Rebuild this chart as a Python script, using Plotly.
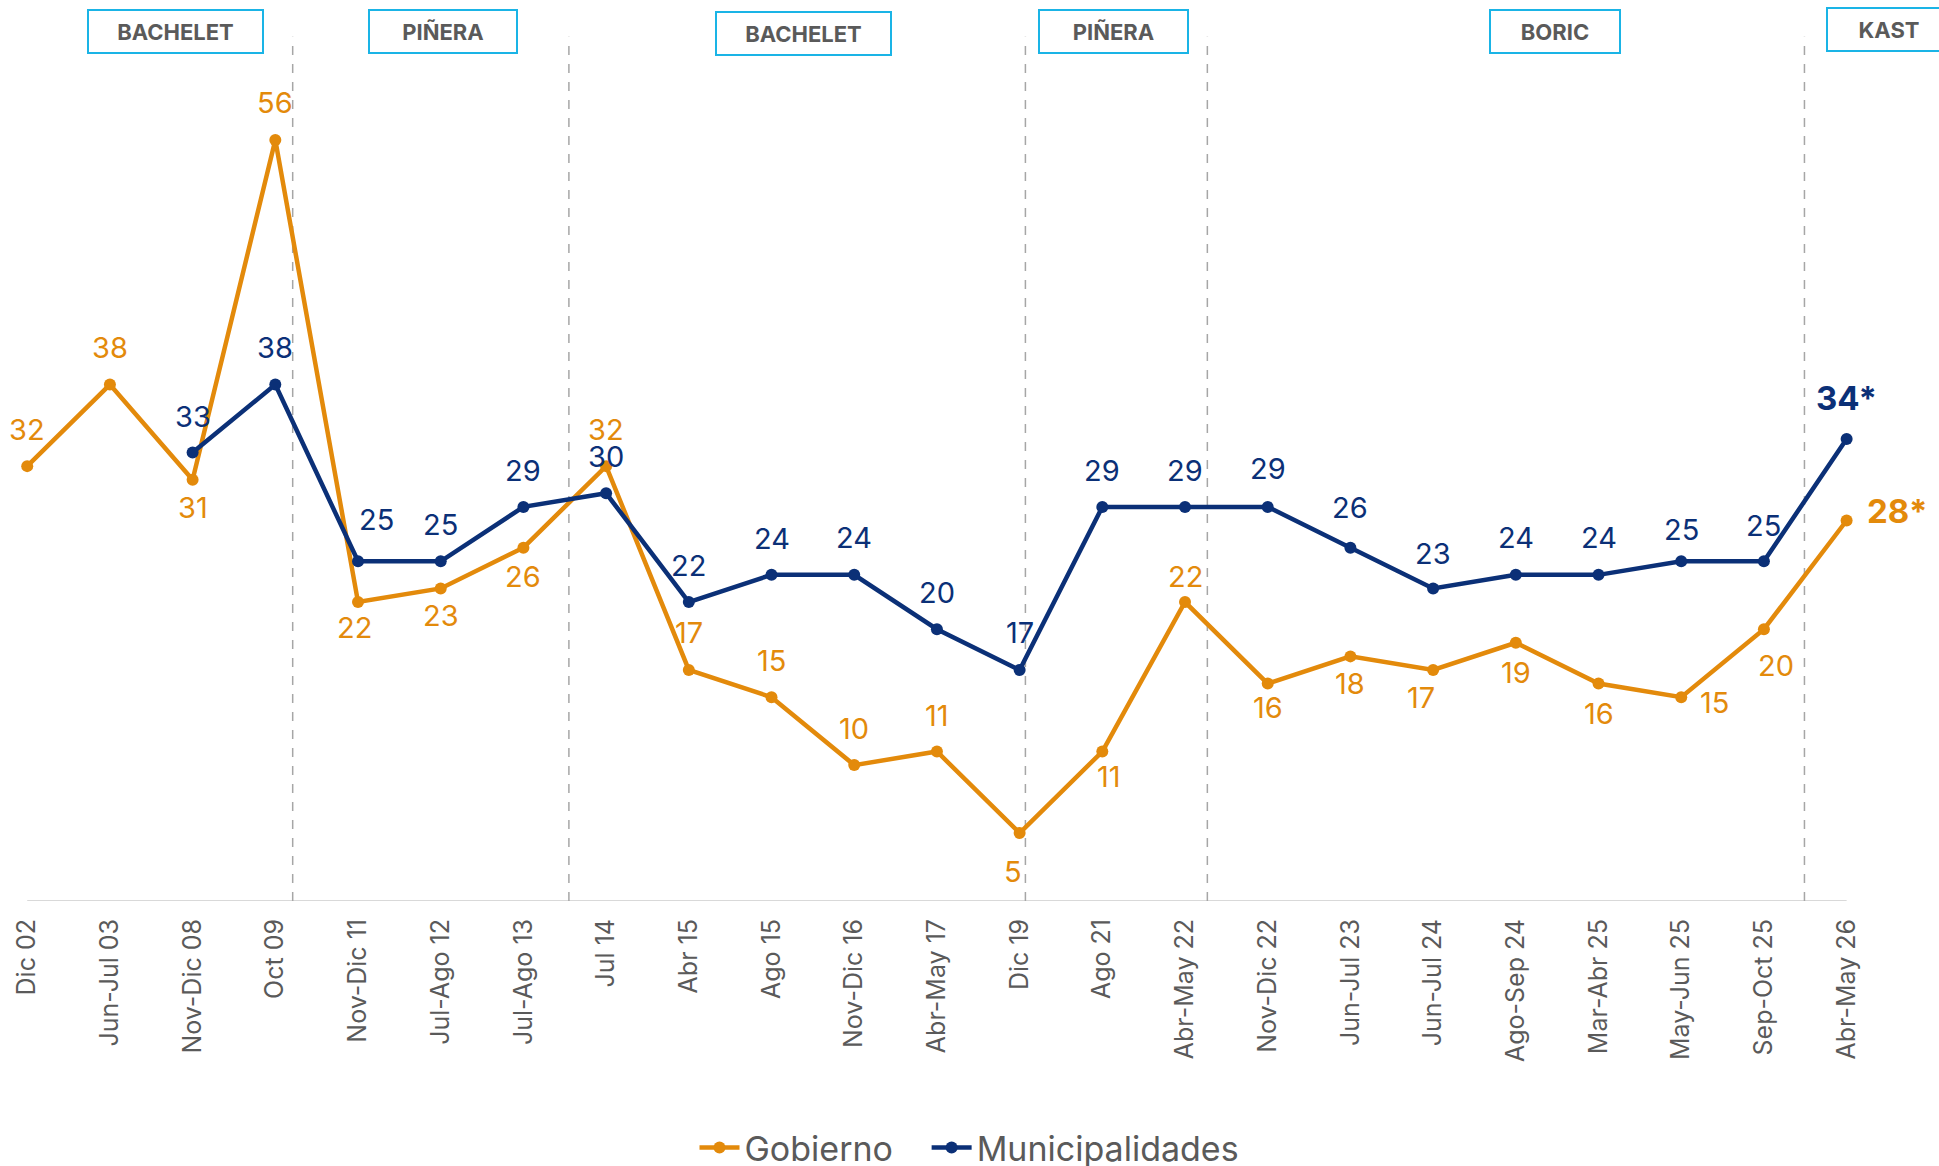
import plotly.graph_objects as go

# Survey waves (x axis) and the two trust series
periods = ["Dic 02", "Jun-Jul 03", "Nov-Dic 08", "Oct 09", "Nov-Dic 11", "Jul-Ago 12",
           "Jul-Ago 13", "Jul 14", "Abr 15", "Ago 15", "Nov-Dic 16", "Abr-May 17",
           "Dic 19", "Ago 21", "Abr-May 22", "Nov-Dic 22", "Jun-Jul 23", "Jun-Jul 24",
           "Ago-Sep 24", "Mar-Abr 25", "May-Jun 25", "Sep-Oct 25", "Abr-May 26"]
gobierno = [32, 38, 31, 56, 22, 23, 26, 32, 17, 15, 10, 11, 5, 11, 22, 16, 18, 17,
            19, 16, 15, 20, 28]
municipalidades = [None, None, 33, 38, 25, 25, 29, 30, 22, 24, 24, 20, 17, 29, 29, 29,
                   26, 23, 24, 24, 25, 25, 34]

# Presidential periods: label, box centre (category units), box width (px)
gov_names = ["BACHELET", "PIÑERA", "BACHELET", "PIÑERA", "BORIC", "KAST"]
gov_centers = [1.79, 5.03, 9.39, 13.14, 18.47, 22.51]
gov_box_w = [177, 150, 177, 151, 132, 126]
gov_box_y = [0.9645, 0.9645, 0.963, 0.9655, 0.9655, 0.967]
# Transitions between periods (category units)
transitions = [3.21, 6.55, 12.07, 14.27, 21.49]

ORANGE = "#E38A0B"
NAVY = "#0B3077"
GREY = "#5A5A5A"
FONT = "Inter"

# label shifts in px (dx, dy); positive dy = up
gob_shift = [(0, 37), (0, 37), (0, -28), (0, 37), (-4, -25), (0, -27), (0, -29),
             (0, 37), (0, 37), (0, 37), (0, 37), (0, 36), (-7, -38), (7, -25),
             (0, 26), (0, -24), (0, -27), (-12, -28), (0, -30), (0, -30), (33, -5),
             (12, -36), (51, 9)]
mun_shift = [None, None, (0, 36), (0, 37), (18, 42), (0, 37), (0, 36), (0, 37),
             (0, 37), (0, 36), (0, 37), (0, 37), (0, 37), (0, 36), (0, 36), (0, 38),
             (0, 40), (0, 35), (0, 37), (0, 37), (0, 32), (0, 36), (0, 41)]

xs = list(range(len(periods)))

fig = go.Figure()
fig.add_trace(go.Scatter(
    x=xs, y=gobierno, name="Gobierno&nbsp;&nbsp;&nbsp;", mode="lines+markers",
    line=dict(color=ORANGE, width=4.5), marker=dict(color=ORANGE, size=12),
    hoverinfo="skip"))
fig.add_trace(go.Scatter(
    x=xs, y=municipalidades, name="Municipalidades", mode="lines+markers",
    line=dict(color=NAVY, width=4.5), marker=dict(color=NAVY, size=12),
    hoverinfo="skip"))

annotations = []
last = len(periods) - 1
for series, shifts, color in ((gobierno, gob_shift, ORANGE),
                              (municipalidades, mun_shift, NAVY)):
    for i, v in enumerate(series):
        if v is None:
            continue
        dx, dy = shifts[i]
        is_last = i == last
        annotations.append(dict(
            x=i, y=v, xref="x", yref="y", showarrow=False,
            text=f"<b>{v}*</b>" if is_last else str(v),
            font=dict(family=FONT, size=33 if is_last else 29, color=color),
            xanchor="center", yanchor="middle", xshift=dx, yshift=dy))

for name, cx, w, by in zip(gov_names, gov_centers, gov_box_w, gov_box_y):
    annotations.append(dict(
        x=cx, y=by, xref="x", yref="paper", showarrow=False,
        text=f"<b>{name}</b>", font=dict(family=FONT, size=22, color=GREY),
        width=w - 4, height=41, borderpad=0, bordercolor="#1AB4E6", borderwidth=2,
        bgcolor="white", xanchor="center", yanchor="middle"))

shapes = [dict(type="line", xref="x", yref="y", x0=0, x1=last, y0=0, y1=0,
               line=dict(color="#D9D9D9", width=2), layer="below")]
for t in transitions:
    shapes.append(dict(type="line", xref="x", yref="y", x0=t, x1=t, y0=0, y1=63.6,
                       line=dict(color="#A6A6A6", width=1.5, dash="dash"),
                       layer="below"))

fig.update_layout(
    width=1939, height=1166,
    margin=dict(l=0, r=0, t=0, b=265, autoexpand=False),
    paper_bgcolor="white", plot_bgcolor="white",
    font=dict(family=FONT, color=GREY),
    xaxis=dict(range=[-0.329, 23.117], tickvals=xs, ticktext=periods, tickangle=-90,
               showgrid=False, zeroline=False, showline=False, ticks="",
               ticklabelstandoff=12, automargin=False,
               tickfont=dict(family=FONT, size=25, color=GREY), fixedrange=True),
    yaxis=dict(range=[0, 66.3], visible=False, fixedrange=True),
    showlegend=True,
    legend=dict(orientation="h", x=0.5, xanchor="center", y=-0.274, yanchor="middle",
                font=dict(family=FONT, size=34, color=GREY), itemwidth=40,
                bgcolor="rgba(0,0,0,0)"),
    annotations=annotations, shapes=shapes,
)

fig.write_html("out.html")
